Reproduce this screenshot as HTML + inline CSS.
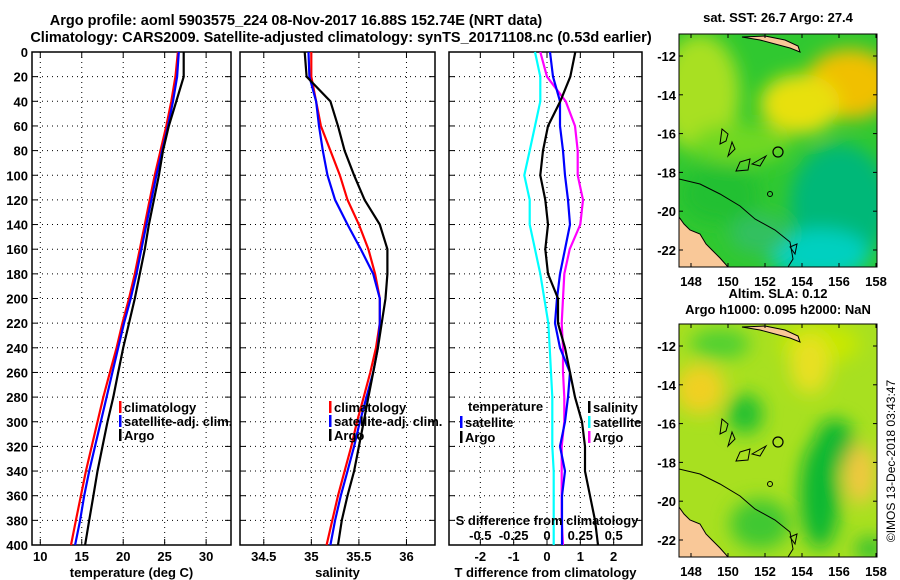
<!DOCTYPE html>
<html><head><meta charset="utf-8"><style>
html,body{margin:0;padding:0;background:#fff;}
svg{display:block;font-family:"Liberation Sans",sans-serif;font-weight:bold;}
</style></head><body>
<svg id="chart" width="900" height="580" viewBox="0 0 900 580">
<defs>
<filter id="blur6"><feGaussianBlur stdDeviation="9"/></filter>
<clipPath id="clipTop"><rect x="679" y="34" width="198" height="233"/></clipPath>
<clipPath id="clipBot"><rect x="679" y="324" width="198" height="233"/></clipPath>
</defs>
<text x="296" y="25" font-size="14.5" text-anchor="middle">Argo profile: aoml 5903575_224 08-Nov-2017 16.88S 152.74E (NRT data)</text>
<text x="341" y="42" font-size="14.5" text-anchor="middle">Climatology: CARS2009. Satellite-adjusted climatology: synTS_20171108.nc (0.53d earlier)</text>
<g id="panels"></g>
<g id="maps"></g>
</svg>
<script>
// ---- data ----
const pressures = [0,20,40,60,80,100,120,140,160,180,200,220,240,260,280,300,320,340,360,380,400];
const tempArgo = [27.3,27.3,26.4,25.5,24.8,24.3,23.7,23.1,22.6,22.0,21.4,20.7,20.0,19.4,18.8,18.1,17.5,16.9,16.4,15.9,15.4];
const tempClim = [26.6,26.3,25.8,25.2,24.5,23.8,23.2,22.6,22.0,21.4,20.7,19.9,19.2,18.4,17.6,16.9,16.2,15.5,14.9,14.3,13.7];
const tempSat  = [26.7,26.5,26.0,25.4,24.7,24.0,23.4,22.8,22.2,21.6,20.9,20.1,19.4,18.7,18.0,17.3,16.6,15.9,15.3,14.8,14.2];
const salArgo = [34.93,34.95,35.2,35.28,35.35,35.45,35.56,35.72,35.8,35.8,35.78,35.74,35.7,35.65,35.6,35.55,35.5,35.45,35.38,35.32,35.28];
const salClim = [35.0,35.0,35.05,35.1,35.2,35.3,35.38,35.5,35.6,35.67,35.72,35.72,35.68,35.62,35.55,35.48,35.42,35.35,35.28,35.22,35.16];
const salSat  = [34.97,34.98,35.05,35.08,35.12,35.17,35.25,35.38,35.52,35.65,35.72,35.72,35.7,35.65,35.58,35.51,35.45,35.38,35.31,35.25,35.2];
const tDiffArgo = [0.85,0.7,0.4,0.03,-0.12,-0.2,-0.05,0.03,-0.05,0.03,0.33,0.33,0.54,0.69,0.84,1.05,1.14,1.14,1.29,1.44,1.53];
const tDiffSat  = [0.09,0.18,0.39,0.39,0.48,0.54,0.63,0.69,0.54,0.39,0.3,0.24,0.39,0.69,0.63,0.54,0.39,0.54,0.45,0.45,0.45];
const sDiffSat  = [-0.09,-0.05,-0.05,-0.09,-0.13,-0.17,-0.13,-0.13,-0.09,-0.05,-0.02,0.01,0.02,0.03,0.04,0.04,0.04,0.05,0.05,0.05,0.05];
const sDiffArgo = [-0.05,0.0,0.14,0.21,0.23,0.23,0.27,0.25,0.17,0.13,0.12,0.11,0.12,0.12,0.13,0.13,0.11,0.11,0.11,0.11,0.12];
const pTicks = [0,20,40,60,80,100,120,140,160,180,200,220,240,260,280,300,320,340,360,380,400];
const tTicks = [10,15,20,25,30];
const sTicks = [34.5,35,35.5,36];
const tdTicks = [-2,-1,0,1,2];
const sdTicks = [-0.5,-0.25,0,0.25,0.5];
const lonTicks = [148,150,152,154,156,158];
const latTicks = [-12,-14,-16,-18,-20,-22];

const NS='http://www.w3.org/2000/svg';
function mk(tag, attrs, parent){const e=document.createElementNS(NS,tag);for(const k in attrs)e.setAttribute(k,attrs[k]);parent.appendChild(e);return e;}
const Y0=52, Y1=545;
const yScale = p => Y0 + (p/400)*(Y1-Y0);
const lin = (d0,d1,r0,r1) => v => r0 + (v-d0)/(d1-d0)*(r1-r0);
const panels = document.getElementById('panels');

function panel(name,x0,x1,xs,ticks,tickFmt,title,showY){
  const g=mk('g',{},panels);
  
  
  pTicks.forEach(p=>{
    const l=mk('line',{x1:x0,x2:x1,y1:yScale(p),y2:yScale(p),stroke:'#000','stroke-width':1,'stroke-dasharray':'1,4'},g);
    
    
    mk('line',{x1:x0,x2:x0+6,y1:yScale(p),y2:yScale(p),stroke:'#000'},g);
    mk('line',{x1:x1-6,x2:x1,y1:yScale(p),y2:yScale(p),stroke:'#000'},g);
    if(showY){
      const t=mk('text',{x:x0-4,y:yScale(p)+5,'font-size':13,'text-anchor':'end'},g);
      t.textContent=p;
      
      
    }
  });
  ticks.forEach(v=>{
    const x=xs(v);
    const l=mk('line',{x1:x,x2:x,y1:Y0,y2:Y1,stroke:'#000','stroke-dasharray':'1,4'},g);
    
    
    mk('line',{x1:x,x2:x,y1:Y0,y2:Y0+6,stroke:'#000'},g);
    mk('line',{x1:x,x2:x,y1:Y1-6,y2:Y1,stroke:'#000'},g);
    const t=mk('text',{x:x,y:561,'font-size':13,'text-anchor':'middle'},g);
    t.textContent=tickFmt(v);
    
    
  });
  const b=mk('rect',{x:x0,y:Y0,width:x1-x0,height:Y1-Y0,fill:'none',stroke:'#000','stroke-width':1.5},g);
  
  
  const tt=mk('text',{x:(x0+x1)/2,y:577,'font-size':13,'text-anchor':'middle'},g);
  tt.textContent=title;
  
  
  return g;
}
function series(g,vals,xs,color,name){
  const pts=vals.map((v,i)=>xs(v).toFixed(1)+','+yScale(pressures[i]).toFixed(1)).join(' ');
  const pl=mk('polyline',{points:pts,fill:'none',stroke:color,'stroke-width':2.2},g);
  
  
}
function legend(g,x,y,color,label,name){
  mk('rect',{x:x,y:y-6,width:2.5,height:12,fill:color},g);
  const t=mk('text',{x:x+5,y:y+5,'font-size':13},g);
  t.textContent=label;
  
  
}
// Panel 1
const xsT=lin(9,33,32,231);
const g1=panel('temperature',32,231,xsT,tTicks,v=>v,'temperature (deg C)',true);
series(g1,tempClim,xsT,'#f00','temp-climatology-line');
series(g1,tempSat,xsT,'#00f','temp-satellite-line');
series(g1,tempArgo,xsT,'#000','temp-argo-line');
legend(g1,119,407,'#f00','climatology','legend-climatology');
legend(g1,119,421,'#00f','satellite-adj. clim.','legend-satellite');
legend(g1,119,435,'#000','Argo','legend-argo');
// Panel 2
const xsS=lin(34.25,36.3,240,435);
const g2=panel('salinity',240,435,xsS,sTicks,v=>v,'salinity',false);
series(g2,salClim,xsS,'#f00','sal-climatology-line');
series(g2,salSat,xsS,'#00f','sal-satellite-line');
series(g2,salArgo,xsS,'#000','sal-argo-line');
legend(g2,329,407,'#f00','climatology','legend-climatology-2');
legend(g2,329,421,'#00f','satellite-adj. clim.','legend-satellite-2');
legend(g2,329,435,'#000','Argo','legend-argo-2');
// Panel 3
const xsD=lin(-2.94,2.85,449,642);
const xsSD=v=>xsD(v*4);
const g3=panel('difference',449,642,xsD,tdTicks,v=>v,'T difference from climatology',false);
series(g3,sDiffSat,xsSD,'#0ff','sdiff-satellite-line');
series(g3,sDiffArgo,xsSD,'#f0f','sdiff-argo-line');
series(g3,tDiffSat,xsD,'#00f','tdiff-satellite-line');
series(g3,tDiffArgo,xsD,'#000','tdiff-argo-line');
{const t=mk('text',{x:468,y:411,'font-size':13},g3);t.textContent='temperature';

}
legend(g3,460,422,'#00f','satellite','legend-t-satellite');
legend(g3,460,437,'#000','Argo','legend-t-argo');
legend(g3,588,407,'#000','salinity','legend-s-heading');
legend(g3,588,422,'#0ff','satellite','legend-s-satellite');
legend(g3,588,437,'#f0f','Argo','legend-s-argo');
{const t=mk('text',{x:547,y:525,'font-size':13,'text-anchor':'middle'},g3);t.textContent='S difference from climatology';

}
sdTicks.forEach(v=>{const t=mk('text',{x:xsSD(v),y:540,'font-size':13,'text-anchor':'middle'},g3);t.textContent=v;

});

// ---- Maps ----
const maps=document.getElementById('maps');
const lonX=lin(148,158,691,876);
function map(name,top,clip,blobs,title1,title2){
  const g=mk('g',{},maps);
  
  
  const latY=lin(-12,-22,top+22,top+216);
  const c=mk('g',{'clip-path':'url(#'+clip+')'},g);
  mk('rect',{x:679,y:top,width:198,height:233,fill:blobs.base},c);
  const bg=mk('g',{filter:'url(#blur6)'},c);
  blobs.list.forEach(b=>mk('ellipse',{cx:b[0],cy:top+b[1],rx:b[2],ry:b[3],fill:b[4]},bg));
  mk('path',{d:`M679,${top+183} L684,${top+190} L690,${top+196} L700,${top+200} L706,${top+210} L712,${top+216} L720,${top+224} L728,${top+233} L679,${top+233} Z`,fill:'#f9c898',stroke:'#000','stroke-width':1},c);
  mk('path',{d:`M679,${top+145} L700,${top+150} L720,${top+160} L740,${top+172} L755,${top+185} L775,${top+196} L790,${top+208} L793,${top+225} L788,${top+233}`,fill:'none',stroke:'#000','stroke-width':1},c);
  mk('path',{d:`M742,${top+3} L760,${top+6} L775,${top+10} L790,${top+14} L800,${top+18} L798,${top+12} L785,${top+6} L765,${top+2} Z`,fill:'#f9c898',stroke:'#000'},c);
  mk('path',{d:`M722,${top+95} L728,${top+100} L726,${top+107} L720,${top+110} Z M732,${top+108} L735,${top+115} L728,${top+122} Z M740,${top+128} L750,${top+125} L748,${top+136} L736,${top+137} Z M752,${top+130} L766,${top+122} L760,${top+132} Z M790,${top+213} L797,${top+210} L795,${top+220} Z`,fill:'none',stroke:'#000'},c);
  mk('circle',{cx:778,cy:top+118,r:5,fill:'none',stroke:'#000','stroke-width':1.2},g);
  mk('circle',{cx:770,cy:top+160,r:2.5,fill:'none',stroke:'#000'},g);
  mk('rect',{x:679,y:top,width:198,height:233,fill:'none',stroke:'#000'},g);
  lonTicks.forEach(v=>{const x=lonX(v);mk('line',{x1:x,x2:x,y1:top,y2:top+4,stroke:'#000'},g);mk('line',{x1:x,x2:x,y1:top+229,y2:top+233,stroke:'#000'},g);
    const t=mk('text',{x:x,y:top+252,'font-size':13,'text-anchor':'middle'},g);t.textContent=v;
    
    });
  latTicks.forEach(v=>{const y=latY(v);mk('line',{x1:679,x2:683,y1:y,y2:y,stroke:'#000'},g);mk('line',{x1:873,x2:877,y1:y,y2:y,stroke:'#000'},g);
    const t=mk('text',{x:676,y:y+5,'font-size':13,'text-anchor':'end'},g);t.textContent=v;
    
    });
  const t1=mk('text',{x:778,y:title2?top-26:top-12,'font-size':13,'text-anchor':'middle'},g);t1.textContent=title1;
  
  
  if(title2){const t2=mk('text',{x:778,y:top-10,'font-size':13,'text-anchor':'middle'},g);t2.textContent=title2;
  
  }
}
map('sst-map',34,'clipTop',{base:'#30c830',list:[
 [700,60,40,60,'#a8e020'],[850,50,45,35,'#f0c000'],[800,70,40,30,'#e8e010'],[740,110,50,20,'#70d820'],
 [840,170,50,60,'#00b878'],[820,220,50,25,'#00d0c0'],[720,160,40,30,'#20c030'],[760,200,30,20,'#30c060']]},'sat. SST: 26.7 Argo: 27.4',null);
map('sla-map',324,'clipBot',{base:'#a8e020',list:[
 [700,65,25,25,'#f0d020'],[745,90,18,20,'#20c030'],[820,20,40,20,'#c8e800'],[810,40,20,30,'#e8e020'],
 [820,170,20,55,'#10b830'],[835,120,20,25,'#10b830'],[860,150,16,30,'#f0c840'],[760,200,30,25,'#40c830'],[720,20,30,15,'#50d030'],[870,225,15,12,'#30c030']]},'Altim. SLA: 0.12','Argo h1000: 0.095 h2000: NaN');
{const t=mk('text',{x:0,y:0,'font-size':12,'font-weight':'normal','text-anchor':'middle',transform:'translate(895,461) rotate(-90)'},maps);
t.textContent='©IMOS 13-Dec-2018 03:43:47';

}
</script>
</body></html>
